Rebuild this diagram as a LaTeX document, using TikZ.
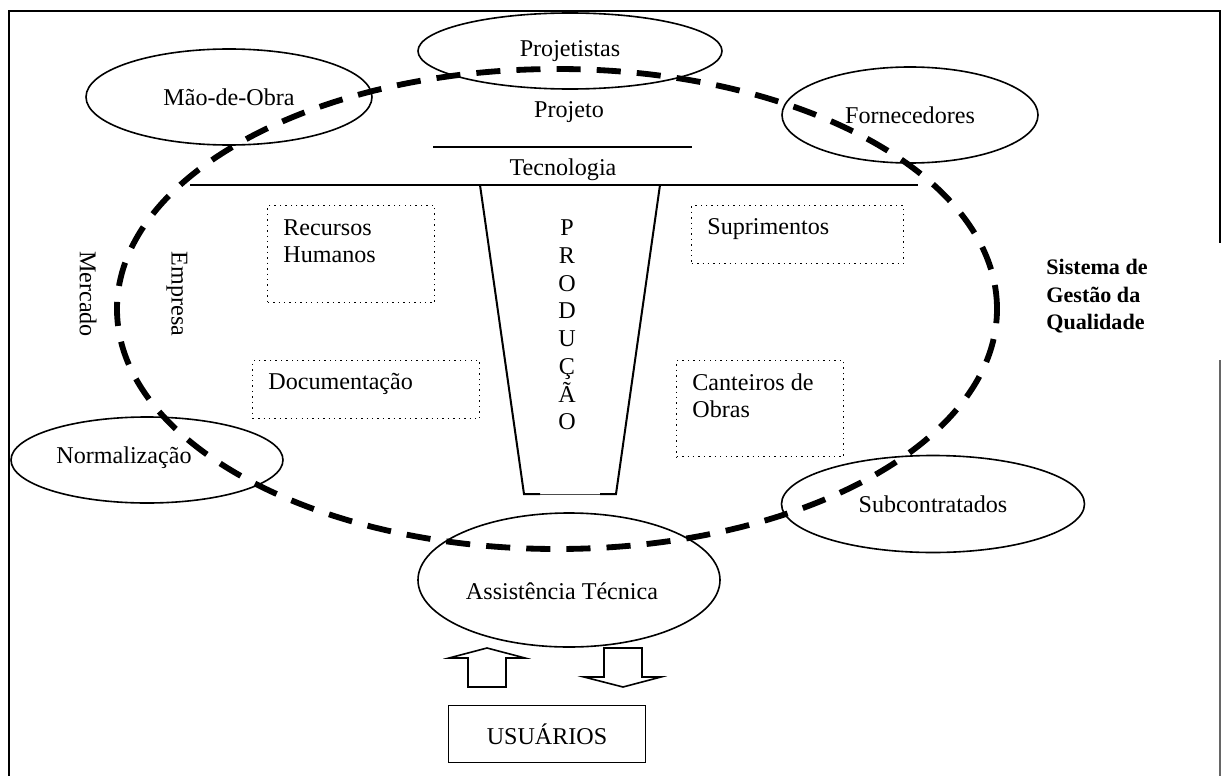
\documentclass[tikz,border=0pt]{standalone}
\usepackage{fontspec}
\setmainfont{Liberation Serif}
\usepackage{tikz}
\usetikzlibrary{
	shapes.geometric,
	positioning
}

\newcommand{\pxl}{0.0175cm}

\begin{document}
\begin{tikzpicture}[x=0.0175cm, y=-0.0175cm,
		every node/.style={font=\fontsize{12}{13.8}\selectfont, inner sep=0pt},
		ator/.style 2 args={draw, ellipse, line width=0.8pt, minimum width=#1*\pxl, minimum height=#2*\pxl},
		setor/.style 2 args={draw, dotted, line width=0.7pt, anchor=north west, minimum width=#1*\pxl, minimum height=#2*\pxl},
		rotulo/.style={anchor=north west, align=left},
		sistema/.style={line width=2.9pt, dash pattern=on 12pt off 8pt},
		seta/.style={draw, line width=0.8pt, line join=miter}
	]
		\useasboundingbox (0,0) rectangle (1221,776);
		\draw[line width=1pt] (9,776) -- (9,11) -- (1220,11) -- (1220,243);
		\draw[line width=1pt, black!60] (1220,360) -- (1220,776);

		\node[ator={304}{76}] (projetistas) at (570,51) {Projetistas};
		\node[ator={286}{96}] (maodeobra) at (229,97) {Mão-de-Obra};
		\node[ator={256}{96}] (fornecedores) at (910,115) {Fornecedores};
		\node[ator={272}{86}] (normalizacao) at (147,460) {};
		\node at (124,458) {Normalização};
		\node[ator={303}{97}] (subcontratados) at (933,504) {Subcontratados};
		\node[ator={302}{134}] (assistencia) at (569,580) {};
		\node at (562,591) {Assistência Técnica};

		\node (projeto) at (569,112) {Projeto};
		\draw[line width=0.8pt] (433,147) -- (692,147);
		\node (tecnologia) at (563,170) {Tecnologia};
		\draw[line width=0.8pt] (190,185) -- (918,185);

		\draw[line width=1pt] (480,185) -- (524,494) -- (540,494);
		\draw[line width=1pt] (600,494) -- (616,494) -- (660,185);
		\draw[line width=0.5pt, black!70] (540,494) -- (600,494);
		\node[align=center] (producao) at (567,325) {P\\R\\O\\D\\U\\Ç\\Ã\\O};

		\node[setor={167}{97}] (rh) at (267,205) {};
		\node[rotulo] at (283,219) {Recursos\\Humanos};
		\node[setor={227}{58}] (doc) at (252,360) {};
		\node[rotulo] at (268,373) {Documentação};
		\node[setor={212}{58}] (suprimentos) at (691,205) {};
		\node[rotulo] at (707,218) {Suprimentos};
		\node[setor={167}{96}] (canteiros) at (676,360) {};
		\node[rotulo] at (692,373) {Canteiros de\\Obras};

		\node[rotate=-90] (mercado) at (88,294) {Mercado};
		\node[rotate=-90] (empresa) at (177,294) {Empresa};

		\draw[sistema] (557,309) ellipse [x radius=440*\pxl, y radius=240*\pxl];
		\node[rotulo, font=\fontsize{11}{13.6}\selectfont\bfseries] (sgq) at (1046,259) {Sistema de\\Gestão da\\Qualidade};

		\draw[seta] (468,687) -- (468,658) -- (449,658) -- (487,648) -- (525,658) -- (506,658) -- (506,687) -- cycle;
		\draw[seta] (604,648) -- (604,677) -- (584,677) -- (623,687) -- (661,677) -- (642,677) -- (642,648) -- cycle;
		\node[draw, line width=0.8pt, minimum width=197*\pxl, minimum height=57*\pxl] (usuarios) at (547,734) {USUÁRIOS};
	\end{tikzpicture}
\end{document}
